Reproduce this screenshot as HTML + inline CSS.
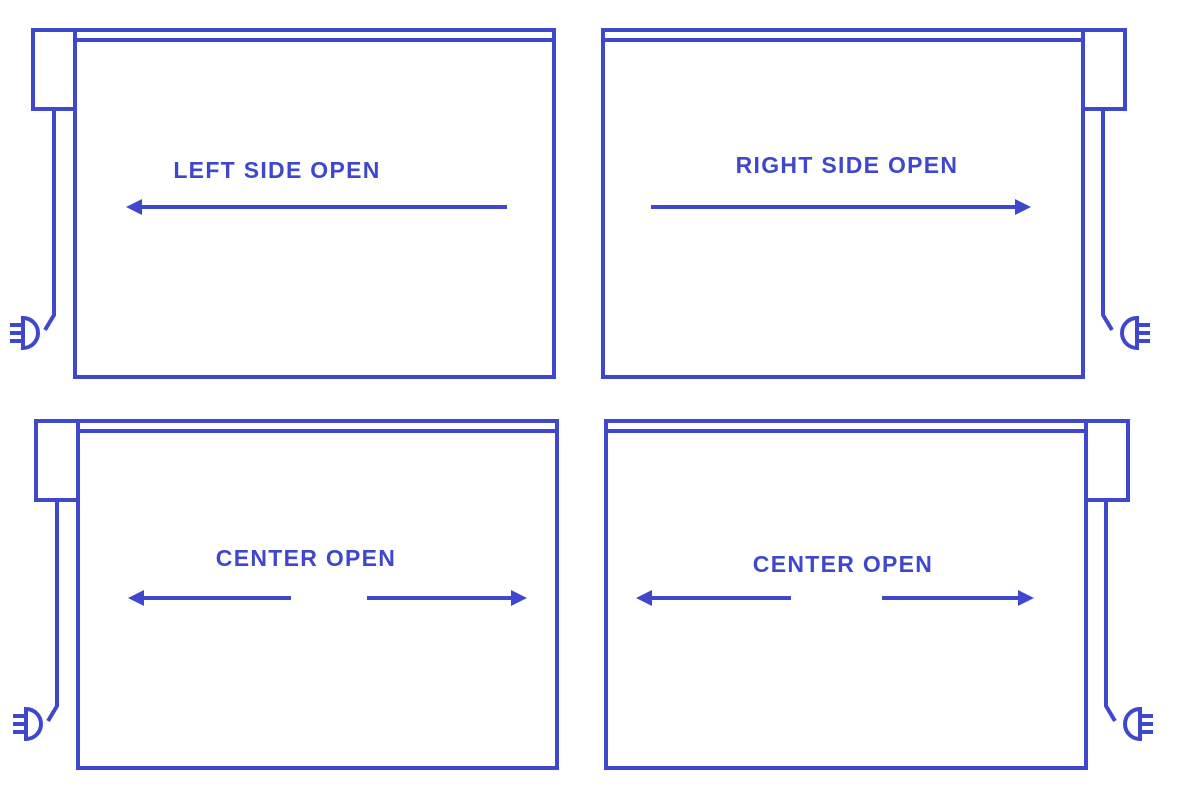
<!DOCTYPE html>
<html><head><style>body{margin:0;background:#fff}svg{display:block}</style></head><body>
<svg width="1181" height="799" viewBox="0 0 1181 799" xmlns="http://www.w3.org/2000/svg">
<g fill="none" stroke="#3f48cc" stroke-width="4" stroke-linejoin="miter">
<!-- Panel 1 -->
<path d="M33,30H554V377H75V30"/>
<path d="M75,40H554"/>
<rect x="33" y="30" width="42" height="79"/>
<path d="M54,109V315L45,330"/>
<path d="M23,318 A15,15 0 0 1 23,348 Z"/>
<path d="M10,325H23M10,333H23M10,341H23"/>
<!-- Panel 2 -->
<path d="M1125,30H603V377H1083V30"/>
<path d="M603,40H1083"/>
<rect x="1083" y="30" width="42" height="79"/>
<path d="M1103,109V315L1112,330"/>
<path d="M1137,318 A15,15 0 0 0 1137,348 Z"/>
<path d="M1137,325H1150M1137,333H1150M1137,341H1150"/>
<!-- Panel 3 -->
<path d="M36,421H557V768H78V421"/>
<path d="M78,431H557"/>
<rect x="36" y="421" width="42" height="79"/>
<path d="M57,500V706L48,721"/>
<path d="M26,709 A15,15 0 0 1 26,739 Z"/>
<path d="M13,716H26M13,724H26M13,732H26"/>
<!-- Panel 4 -->
<path d="M1128,421H606V768H1086V421"/>
<path d="M606,431H1086"/>
<rect x="1086" y="421" width="42" height="79"/>
<path d="M1106,500V706L1115,721"/>
<path d="M1140,709 A15,15 0 0 0 1140,739 Z"/>
<path d="M1140,716H1153M1140,724H1153M1140,732H1153"/>
<!-- arrows lines -->
<path d="M140,207H507"/>
<path d="M651,207H1018"/>
<path d="M141,598H291M367,598H514"/>
<path d="M648,598H791M882,598H1021"/>
</g>
<g fill="#3f48cc">
<path d="M126,207L142,199V215Z"/>
<path d="M1031,207L1015,199V215Z"/>
<path d="M128,598L144,590V606Z"/>
<path d="M527,598L511,590V606Z"/>
<path d="M636,598L652,590V606Z"/>
<path d="M1034,598L1018,590V606Z"/>
</g>
<g fill="#3f48cc" font-family="Liberation Sans, sans-serif" font-weight="bold" font-size="23" text-anchor="middle" letter-spacing="1.3">
<text x="277" y="178">LEFT SIDE OPEN</text>
<text x="847" y="173">RIGHT SIDE OPEN</text>
<text x="306" y="566">CENTER OPEN</text>
<text x="843" y="572">CENTER OPEN</text>
</g>
</svg>
</body></html>
